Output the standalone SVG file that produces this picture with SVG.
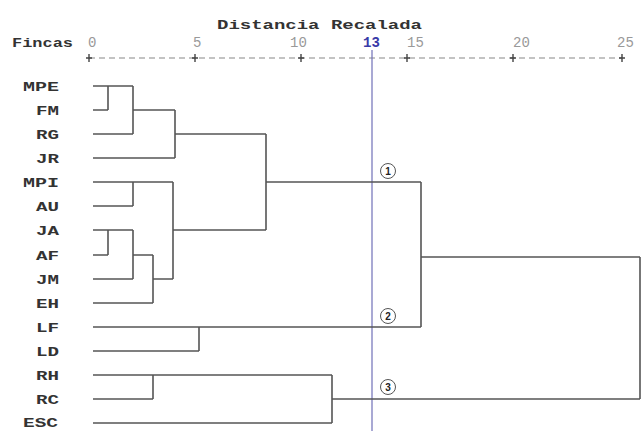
<svg xmlns="http://www.w3.org/2000/svg" width="642" height="431" viewBox="0 0 642 431">
<style>
.lbl{font-family:"Liberation Mono",monospace;font-weight:bold;font-size:13px;fill:#333}
.num{font-family:"Liberation Mono",monospace;font-size:14px;fill:#999}
.ttl{font-family:"Liberation Mono",monospace;font-weight:bold;font-size:13px;fill:#333}
.ln{fill:none;stroke:#555;stroke-width:1.6}
.tick{stroke:#444;stroke-width:1.4}
.circ{fill:#fff;stroke:#555;stroke-width:1}
.ctxt{font-family:"Liberation Sans",sans-serif;font-weight:bold;font-size:10px;fill:#222;text-anchor:middle}
</style>
<rect width="642" height="431" fill="#fff"/>
<g id="header">
<text class="ttl" x="217" y="29" textLength="205" lengthAdjust="spacingAndGlyphs">Distancia Recalada</text>
<text class="ttl" x="12" y="47" textLength="61" lengthAdjust="spacingAndGlyphs">Fincas</text>
<text class="num" x="88" y="47">0</text>
<text class="num" x="193" y="47">5</text>
<text class="num" x="290" y="47">10</text>
<text class="num" x="363" y="47" style="fill:#3a3aa8;font-weight:bold">13</text>
<text class="num" x="407" y="47">15</text>
<text class="num" x="513" y="47">20</text>
<text class="num" x="617" y="47">25</text>
</g>
<g id="axis">
<line x1="89" y1="58" x2="622" y2="58" stroke="#888" stroke-width="1.2" stroke-dasharray="6,4"/>
<path class="tick" d="M89,54V62M86,58H92M195,54V62M192,58H198M301,54V62M298,58H304M407,54V62M404,58H410M513,54V62M510,58H516M622,54V62M619,58H625"/>
</g>
<g id="cut-line">
<line x1="372" y1="50" x2="372" y2="431" stroke="#7070b8" stroke-width="1.2"/>
</g>
<g id="leaves">
<g id="n-MPE"><text class="lbl" x="23" y="90.5" textLength="36" lengthAdjust="spacingAndGlyphs">MPE</text></g>
<g id="n-FM"><text class="lbl" x="36" y="114.5" textLength="23" lengthAdjust="spacingAndGlyphs">FM</text></g>
<g id="n-RG"><text class="lbl" x="36" y="138.5" textLength="23" lengthAdjust="spacingAndGlyphs">RG</text></g>
<g id="n-JR"><text class="lbl" x="36" y="162.5" textLength="23" lengthAdjust="spacingAndGlyphs">JR</text></g>
<g id="n-MPI"><text class="lbl" x="23" y="186.5" textLength="36" lengthAdjust="spacingAndGlyphs">MPI</text></g>
<g id="n-AU"><text class="lbl" x="36" y="210.5" textLength="23" lengthAdjust="spacingAndGlyphs">AU</text></g>
<g id="n-JA"><text class="lbl" x="36" y="234.5" textLength="23" lengthAdjust="spacingAndGlyphs">JA</text></g>
<g id="n-AF"><text class="lbl" x="36" y="259.5" textLength="23" lengthAdjust="spacingAndGlyphs">AF</text></g>
<g id="n-JM"><text class="lbl" x="36" y="283.5" textLength="23" lengthAdjust="spacingAndGlyphs">JM</text></g>
<g id="n-EH"><text class="lbl" x="36" y="307.5" textLength="23" lengthAdjust="spacingAndGlyphs">EH</text></g>
<g id="n-LF"><text class="lbl" x="36" y="331.5" textLength="23" lengthAdjust="spacingAndGlyphs">LF</text></g>
<g id="n-LD"><text class="lbl" x="36" y="355.5" textLength="23" lengthAdjust="spacingAndGlyphs">LD</text></g>
<g id="n-RH"><text class="lbl" x="36" y="379.5" textLength="23" lengthAdjust="spacingAndGlyphs">RH</text></g>
<g id="n-RC"><text class="lbl" x="36" y="403.5" textLength="23" lengthAdjust="spacingAndGlyphs">RC</text></g>
<g id="n-ESC"><text class="lbl" x="23" y="427" textLength="35" lengthAdjust="spacingAndGlyphs">ESC</text></g>
</g>
<g id="connectors">
<path class="ln" d="M93,86H133M93,110H108M108,86V110M93,134H133M133,86V134M133,110H175M93,158H175M175,110V158M175,134H266"/>
<path class="ln" d="M93,182H173M93,206H133M133,182V206M93,230H133M93,255H108M108,230V255M93,279H133M133,230V279M133,255H153M93,303H153M153,255V303M153,279H173M173,182V279M173,230H266M266,134V230M266,182H421"/>
<path class="ln" d="M93,327H421M93,351H199M199,327V351M421,182V327M421,257H640"/>
<path class="ln" d="M93,375H332M93,399H153M153,375V399M93,423H332M332,375V423M332,399H640M640,257V399"/>
</g>
<g id="cluster-1"><circle class="circ" cx="388" cy="171" r="7.5"/><text class="ctxt" x="388" y="175">1</text></g>
<g id="cluster-2"><circle class="circ" cx="388" cy="316" r="7.5"/><text class="ctxt" x="388" y="320">2</text></g>
<g id="cluster-3"><circle class="circ" cx="388" cy="387" r="7.5"/><text class="ctxt" x="388" y="391">3</text></g>
</svg>
